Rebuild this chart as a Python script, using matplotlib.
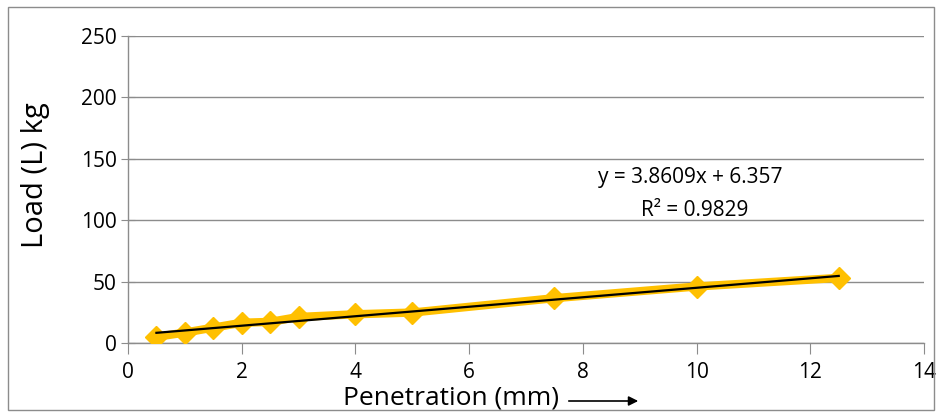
import matplotlib
matplotlib.use("Agg")
import matplotlib.pyplot as plt
from matplotlib.patches import Rectangle, FancyArrowPatch
import numpy as np

penetration = [0.5, 1, 1.5, 2, 2.5, 3, 4, 5, 7.5, 10, 12.5]
load = [5.0, 8.5, 12.5, 16.5, 17.2, 21.2, 23.4, 24.8, 36.5, 46.0, 53.0]
slope = 3.8609
intercept = 6.357
eq_text = "y = 3.8609x + 6.357"
r2_text = "R² = 0.9829"
x_ticks = [0, 2, 4, 6, 8, 10, 12, 14]
y_ticks = [0, 50, 100, 150, 200, 250]

plt.rcParams['font.family'] = ['Open Sans', 'DejaVu Sans']

W, H = 942, 412
fig = plt.figure(figsize=(W / 100, H / 100), dpi=100)
fig.patches.append(Rectangle((8 / W, 2 / H), 926 / W, 403 / H, transform=fig.transFigure,
                             fill=False, edgecolor='#8c8c8c', linewidth=1.0))

ax = fig.add_axes([128 / W, (H - 343) / H, 796 / W, 307 / H])
ax.set_xlim(0, 14)
ax.set_ylim(0, 250)
ax.set_xticks(x_ticks)
ax.set_yticks(y_ticks)
ax.yaxis.grid(True, color='#8c8c8c', linewidth=1.0)
ax.set_axisbelow(True)
for s in ['top', 'right']:
    ax.spines[s].set_visible(False)
for s in ['left', 'bottom']:
    ax.spines[s].set_color('#8c8c8c')
    ax.spines[s].set_linewidth(1.0)
ax.tick_params(axis='y', direction='inout', length=10, color='#8c8c8c', labelsize=15, pad=3)
ax.tick_params(axis='x', direction='out', length=8, color='#8c8c8c', labelsize=15, pad=6)

ax.plot(penetration, load, color='#FFC000', linewidth=6, marker='D', markersize=11.5,
        markerfacecolor='#FFC000', markeredgecolor='#FFC000', solid_joinstyle='round', zorder=3)
xt = np.array([penetration[0], penetration[-1]])
ax.plot(xt, slope * xt + intercept, color='black', linewidth=1.6, zorder=4)

fig.text(598 / W, (H - 177) / H, eq_text, ha='left', va='center', fontsize=15)
fig.text(641 / W, (H - 210) / H, r2_text, ha='left', va='center', fontsize=15)

fig.text(36 / W, (H - 175) / H, "Load (L) kg", rotation=90, ha='center', va='center', fontsize=21)
fig.text(451 / W, (H - 398) / H, "Penetration (mm)", ha='center', va='center', fontsize=19)
arr = FancyArrowPatch((566 / W, (H - 401) / H), (641 / W, (H - 401) / H), transform=fig.transFigure,
                      arrowstyle='-|>', mutation_scale=14, color='black', linewidth=1.2)
fig.patches.append(arr)

fig.savefig("out.png", dpi=100)
